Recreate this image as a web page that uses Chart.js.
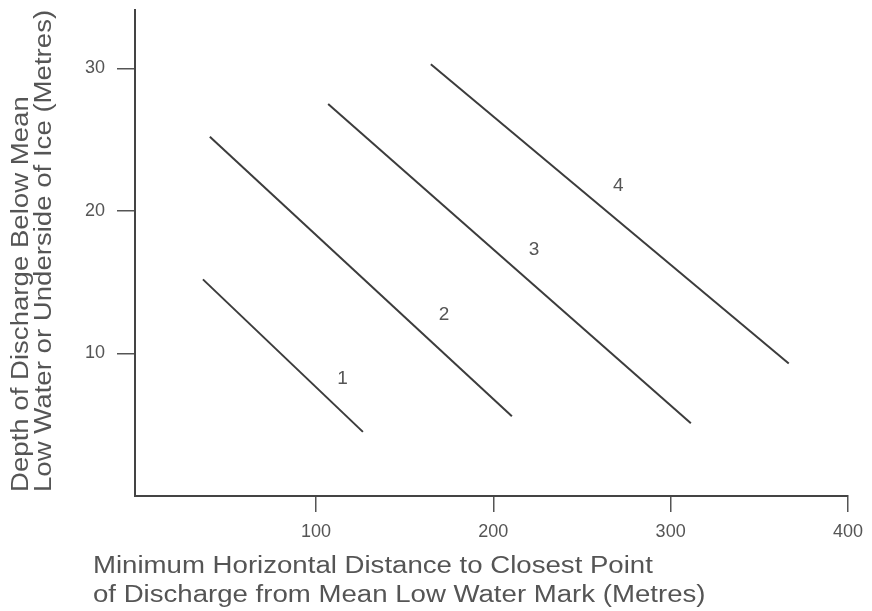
<!DOCTYPE html>
<html><head><meta charset="utf-8">
<script src="https://cdn.jsdelivr.net/npm/chart.js@4/dist/chart.umd.min.js"></script>
<style>html,body{margin:0;padding:0;background:#fff}#wrap{width:872px;height:611px}</style>
</head><body><div id="wrap"><canvas id="c" width="872" height="611"></canvas></div>
<script>
// ---- data ----
const xTicks = [100, 200, 300, 400];
const yTicks = [10, 20, 30];
const line1X = [36.3, 126.5];  const line1Y = [15.2, 4.5];
const line2X = [40.2, 210.5];  const line2Y = [25.2, 5.6];
const line3X = [106.9, 311.4]; const line3Y = [27.5, 5.1];
const line4X = [164.8, 366.6]; const line4Y = [30.3, 9.3];
const lineNames = ['1', '2', '3', '4'];
const labelX = [115, 172.3, 223, 270.5];
const labelY = [8.2, 12.75, 17.25, 21.75];
const xTitle = ['Minimum Horizontal Distance to Closest Point', 'of Discharge from Mean Low Water Mark (Metres)'];
const yTitle = ['Depth of Discharge Below Mean', 'Low Water or Underside of Ice (Metres)'];

const FONT = '"Liberation Sans", Arial, Helvetica, sans-serif';
const TEXT = '#555';
const LINE = '#3c3c3c';

const series = [[line1X, line1Y], [line2X, line2Y], [line3X, line3Y], [line4X, line4Y]];
const datasets = series.map(([xs, ys], i) => ({
  label: lineNames[i],
  data: xs.map((x, j) => ({ x: x, y: ys[j] })),
  showLine: true,
  borderColor: LINE,
  borderWidth: 2,
  pointRadius: 0,
  fill: false
}));

const annot = {
  id: 'annot',
  afterDraw(chart) {
    const ctx = chart.ctx, xs = chart.scales.x, ys = chart.scales.y;
    ctx.save();
    ctx.fillStyle = TEXT;
    // line labels
    ctx.font = '19px ' + FONT;
    ctx.textAlign = 'center'; ctx.textBaseline = 'middle';
    lineNames.forEach((n, i) => {
      ctx.fillText(n, xs.getPixelForValue(labelX[i]), ys.getPixelForValue(labelY[i]));
    });
    // x title
    ctx.font = '23px ' + FONT;
    ctx.textAlign = 'left';
    const sx = 1.2;
    [567, 596].forEach((y, i) => {
      ctx.save(); ctx.translate(93, y); ctx.scale(sx, 1);
      ctx.fillText(xTitle[i], 0, 0); ctx.restore();
    });
    // y title
    [22, 45].forEach((x, i) => {
      ctx.save(); ctx.translate(x, 492); ctx.rotate(-Math.PI / 2); ctx.scale(sx, 1);
      ctx.fillText(yTitle[i], 0, 0); ctx.restore();
    });
    ctx.restore();
  }
};

new Chart(document.getElementById('c'), {
  type: 'scatter',
  data: { datasets },
  options: {
    responsive: false, animation: false,
    layout: { padding: { top: 10, right: 24, left: 0, bottom: 0 } },
    plugins: { legend: { display: false }, tooltip: { enabled: false } },
    scales: {
      x: {
        type: 'linear', min: -2, max: 400,
        afterBuildTicks: s => { s.ticks = xTicks.map(v => ({ value: v })); },
        afterFit: s => { s.height = 115; s.paddingLeft = 0; s.paddingRight = 0; },
        grid: { drawOnChartArea: false, drawTicks: true, tickLength: 16, color: '#555', lineWidth: 1.5 },
        border: { display: true, color: '#444', width: 2 },
        ticks: { color: TEXT, font: { size: 18, family: FONT }, padding: 9, maxRotation: 0 }
      },
      y: {
        type: 'linear', min: 0, max: 34.1,
        afterBuildTicks: s => { s.ticks = yTicks.map(v => ({ value: v })); },
        afterFit: s => { s.width = 135; s.paddingTop = 0; s.paddingBottom = 0; },
        grid: { drawOnChartArea: false, drawTicks: true, tickLength: 18, color: '#555', lineWidth: 1.5 },
        border: { display: true, color: '#444', width: 2 },
        ticks: { color: TEXT, font: { size: 18, family: FONT }, padding: 12 }
      }
    }
  },
  plugins: [annot]
});
</script></body></html>
